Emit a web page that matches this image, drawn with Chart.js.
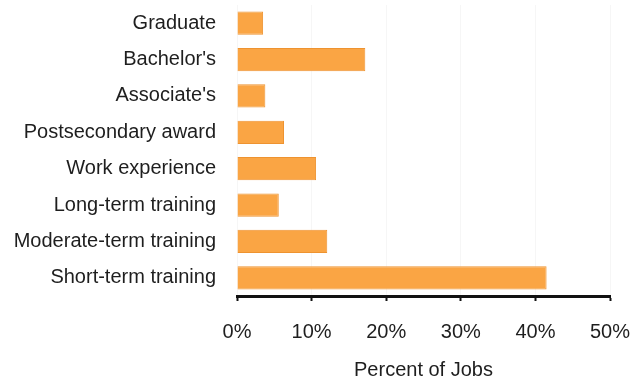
<!DOCTYPE html>
<html>
<head>
<meta charset="utf-8">
<script src="https://cdn.jsdelivr.net/npm/chart.js@4/dist/chart.umd.min.js"></script>
<style>
  html, body { margin: 0; padding: 0; background: #fff; }
  #wrap { width: 633px; height: 376px; }
</style>
</head>
<body>
<div id="wrap"><canvas id="c" width="633" height="376"></canvas></div>
<script>
// Education / training categories and their share of jobs (%)
const categories = [
  "Graduate",
  "Bachelor's",
  "Associate's",
  "Postsecondary award",
  "Work experience",
  "Long-term training",
  "Moderate-term training",
  "Short-term training"
];
const percentOfJobs = [3.5, 17.2, 3.8, 6.3, 10.6, 5.6, 12.1, 41.5];
const xTicks = [0, 10, 20, 30, 40, 50];

const font = { family: "'Liberation Sans', Arial, Helvetica, sans-serif", size: 20 };

new Chart(document.getElementById('c'), {
  type: 'bar',
  data: {
    labels: categories,
    datasets: [{
      data: percentOfJobs,
      backgroundColor: '#FAA544',
      borderColor: '#EE9330',
      borderWidth: 1,
      barPercentage: 0.9,
      categoryPercentage: 0.71
    }]
  },
  options: {
    indexAxis: 'y',
    responsive: false,
    animation: false,
    layout: { padding: { top: 5, right: 23, left: 0, bottom: 0 } },
    plugins: { legend: { display: false }, tooltip: { enabled: false } },
    scales: {
      y: {
        grid: { display: false },
        border: { display: false },
        ticks: { color: '#1e1e1e', font: font, padding: 13 },
        afterFit: (s) => {
          s.width = 237;
          s.paddingTop = 0;
          s.paddingBottom = 0;
        }
      },
      x: {
        min: 0,
        max: 50,
        afterBuildTicks: (s) => { s.ticks = xTicks.map(v => ({ value: v })); },
        grid: {
          drawOnChartArea: true,
          color: 'rgba(0,0,0,0.035)',
          tickColor: '#111',
          tickLength: 5,
          tickWidth: 2
        },
        border: { display: true, color: '#111', width: 3 },
        ticks: {
          color: '#1e1e1e',
          font: font,
          padding: 19,
          callback: (v) => v + '%'
        },
        title: {
          display: true,
          text: 'Percent of Jobs',
          color: '#1e1e1e',
          font: font,
          padding: { top: 15, bottom: -6 }
        },
        afterFit: (s) => {
          s.height = 80;
          s.paddingLeft = 0;
          s.paddingRight = 0;
        }
      }
    }
  }
});
</script>
</body>
</html>
